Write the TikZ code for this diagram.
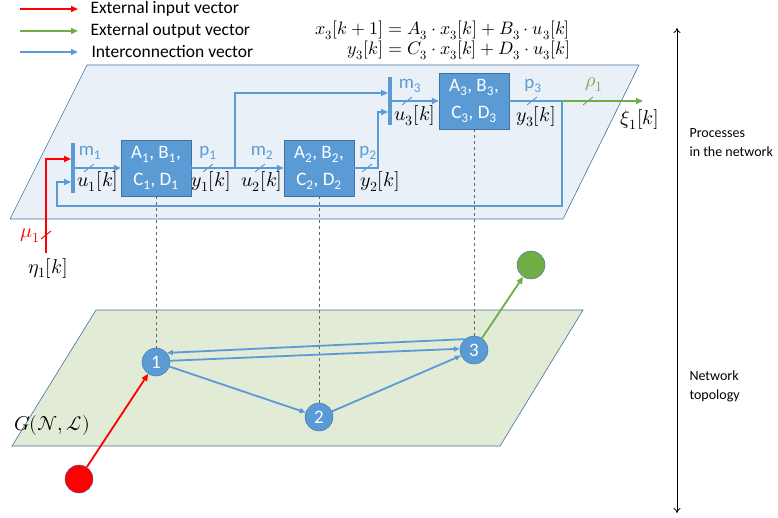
\documentclass[tikz,border=0pt]{standalone}
\usepackage{amsmath}
\usepackage{fontspec}
\usepackage{unicode-math}
\setmainfont{Carlito}
\setmathfont{Latin Modern Math}
\usetikzlibrary{arrows.meta,calc}

\definecolor{ofblue}{HTML}{5B9BD5}
\definecolor{ofdark}{HTML}{41719C}
\definecolor{ofgreen}{HTML}{70AD47}
\definecolor{ofred}{HTML}{FF0000}
\definecolor{planeblue}{HTML}{E9F0F8}
\definecolor{planegreen}{HTML}{E2EBD6}

% small slash on a bus line
\newcommand{\busmark}[3][ofblue]{\draw[#1, line width=0.9pt] (#2-5,#3+4) -- (#2+5,#3-4);}

\begin{document}
\begin{tikzpicture}[
    x=1pt, y=-1pt,
    font=\fontsize{17.5}{20}\selectfont,
    plane/.style={draw=ofdark, line width=0.6pt},
    block/.style={
        draw=ofdark,
        fill=ofblue,
        text=white,
        minimum width=70pt,
        minimum height=56pt,
        inner sep=0pt,
        align=center,
        font=\fontsize{19}{27}\selectfont
    },
    bar/.style={fill=ofblue, minimum width=3.5pt, minimum height=50pt, inner sep=0pt},
    gnode/.style={circle, draw=ofdark, fill=ofblue, text=white, minimum size=28pt,
        inner sep=0pt, font=\fontsize{19}{20}\selectfont},
    endnode/.style={circle, draw=ofdark, minimum size=28pt, inner sep=0pt},
    flow/.style={-{Triangle[length=7pt,width=6pt]}, ofblue, line width=2.2pt},
    flowline/.style={ofblue, line width=2.2pt},
    inarrow/.style={-{Triangle[length=7pt,width=6pt]}, ofred, line width=2.2pt},
    outarrow/.style={-{Triangle[length=7pt,width=6pt]}, ofgreen, line width=2.2pt},
    link/.style={-{Triangle[length=6pt,width=5pt]}, ofblue, line width=1.8pt},
    guide/.style={gray!80!black, dashed, line width=0.6pt},
    sig/.style={text=ofblue, font=\fontsize{19}{20}\selectfont},
    var/.style={font=\fontsize{20}{22}\selectfont},
    side/.style={align=left, anchor=west, font=\fontsize{14}{19}\selectfont}
]
\useasboundingbox (0,0) rectangle (778,518);

% ============================================================
% PLANES
% ============================================================
\fill[planeblue] (87,65) -- (639,65) -- (563,219) -- (10,219) -- cycle;
\draw[plane] (87,65) -- (639,65) -- (563,219) -- (10,219) -- cycle;
\fill[planegreen] (96,310) -- (583,310) -- (500,446) -- (12,446) -- cycle;
\draw[plane] (96,310) -- (583,310) -- (500,446) -- (12,446) -- cycle;

% ============================================================
% LEGEND AND EQUATIONS
% ============================================================
\node[anchor=west] (lgt1) at (87,9)  {External input vector};
\node[anchor=west] (lgt2) at (87,31) {External output vector};
\node[anchor=west] (lgt3) at (88,52) {Interconnection vector};
\coordinate (lg1) at (20,9);
\coordinate (lg2) at (20,31);
\coordinate (lg3) at (20,52);
\draw[inarrow]  (lg1) -- ([xshift=-9pt]lgt1.west);
\draw[outarrow] (lg2) -- ([xshift=-9pt]lgt2.west);
\draw[flow]     (lg3) -- ([xshift=-10pt]lgt3.west);

\node[anchor=east, font=\fontsize{18}{20}\selectfont] (eqn) at (574,41)
    {$\begin{aligned}
      x_3[k+1] &= A_3\cdot x_3[k] + B_3\cdot u_3[k]\\[-3pt]
      y_3[k] &= C_3\cdot x_3[k] + D_3\cdot u_3[k]
    \end{aligned}$};

% ============================================================
% PROCESS BLOCKS
% ============================================================
\node[block] (blk1) at (156,168) {A\textsubscript{1}, B\textsubscript{1},\\C\textsubscript{1}, D\textsubscript{1}};
\node[block] (blk2) at (319,168) {A\textsubscript{2}, B\textsubscript{2},\\C\textsubscript{2}, D\textsubscript{2}};
\node[block] (blk3) at (474,101) {A\textsubscript{3}, B\textsubscript{3},\\C\textsubscript{3}, D\textsubscript{3}};
\node[bar] (bar1) at (73,168) {};
\node[bar, minimum height=48pt] (bar3) at (390,101) {};

\coordinate (in1) at (46,253);
\coordinate (fb)  at (562,101);
\coordinate (fbl) at (57,206);
\coordinate (br1) at (235,168);
\coordinate (br2) at (378,168);
\coordinate (out1) at (643,101);

% ============================================================
% TOPOLOGY NODES
% ============================================================
\node[gnode] (nd1) at (156,362) {1};
\node[gnode] (nd2) at (319,417) {2};
\node[gnode] (nd3) at (474,350) {3};
\node[endnode, fill=ofred]   (src) at (79,479) {};
\node[endnode, fill=ofgreen] (snk) at (531,265) {};

% ============================================================
% CONNECTIONS
% ============================================================
\draw[guide] (blk1.south) -- (nd1.north);
\draw[guide] (blk2.south) -- (nd2.north);
\draw[guide] (blk3.south) -- (nd3.north);

\draw[inarrow] (in1) |- ([yshift=9pt]bar1.west);
\draw[flow] (fb) |- (fbl) |- ([yshift=-14pt]bar1.west);
\draw[flow] (bar1.east) -- (blk1.west);
\draw[flow] (blk1.east) -- (blk2.west);
\draw[flow] (br1) |- ([yshift=8pt]bar3.west);
\draw[flow] (blk2.east) -- (br2) |- ([yshift=-11pt]bar3.west);
\draw[flow] (bar3.east) -- (blk3.west);
\draw[flowline] (blk3.east) -- (fb);
\draw[outarrow] (fb) -- (out1);

\draw[link] (nd3.130) -- (nd1.40);
\draw[link] (nd1.5) -- (nd3.175);
\draw[link] (nd1) -- (nd2);
\draw[link] (nd2) -- (nd3);
\draw[inarrow, line width=1.8pt] (src) -- (nd1);
\draw[outarrow, line width=1.8pt] (nd3) -- (snk);

% bus widths
\busmark{89}{168}
\busmark{208}{168}
\busmark{260}{168}
\busmark{367}{168}
\busmark{407}{101}
\busmark{532}{101}
\busmark[ofgreen]{588}{101}
\busmark[ofred]{46}{235}

% ============================================================
% LABELS
% ============================================================
\node[sig] (lm1) at (90,153) {m\textsubscript{1}};
\node[sig] (lp1) at (208,153) {p\textsubscript{1}};
\node[sig] (lm2) at (262,153) {m\textsubscript{2}};
\node[sig] (lp2) at (368,153) {p\textsubscript{2}};
\node[sig] (lm3) at (410,86) {m\textsubscript{3}};
\node[sig] (lp3) at (533,86) {p\textsubscript{3}};
\node[var, text=ofgreen] (lr1) at (594,85) {$\rho_1$};
\node[var, text=ofred] (lmu) at (30,236) {$\mu_1$};

\node[var] (lu1) at (98,182) {$u_1[k]$};
\node[var] (ly1) at (211,182) {$y_1[k]$};
\node[var] (lu2) at (262,182) {$u_2[k]$};
\node[var] (ly2) at (380,182) {$y_2[k]$};
\node[var] (lu3) at (415,116) {$u_3[k]$};
\node[var] (ly3) at (536,117) {$y_3[k]$};
\node[var] (lxi) at (640,120) {$\xi_1[k]$};
\node[var] (leta) at (48,268) {$\eta_1[k]$};
\node[var] (lg) at (52,425) {$G(\mathcal{N},\mathcal{L})$};

% ============================================================
% SIDE AXIS
% ============================================================
\coordinate (vtop) at (677,28);
\coordinate (vbot) at (677,513);
\draw[{To[length=5pt,width=7pt]}-{To[length=5pt,width=7pt]}, line width=0.8pt] (vtop) -- (vbot);
\node[side] (lproc) at (686,143) {Processes\\in the network};
\node[side] (ltop) at (686,386) {Network\\topology};

\end{tikzpicture}
\end{document}
